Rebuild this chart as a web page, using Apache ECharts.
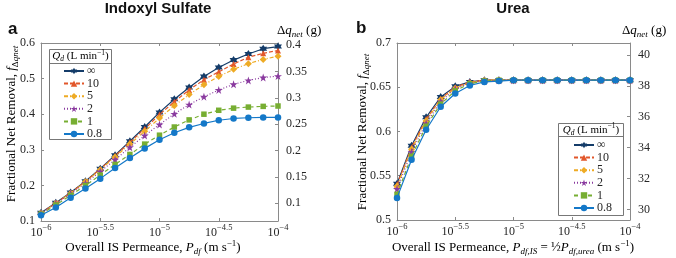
<!DOCTYPE html>
<html><head><meta charset="utf-8">
<script src="https://cdn.jsdelivr.net/npm/echarts@6/dist/echarts.min.js"></script>
<style>html,body{margin:0;padding:0;background:#fff}#c{width:676px;height:258px}</style>
</head><body><div id="c"></div>
<script>
// ---- data ----
const xExp = [-6, -5.875, -5.75, -5.625, -5.5, -5.375, -5.25, -5.125, -5, -4.875, -4.75, -4.625, -4.5, -4.375, -4.25, -4.125, -4];
const seriesNames = ['∞', '10', '5', '2', '1', '0.8'];

const isInf = [0.123,0.151,0.180,0.212,0.247,0.285,0.324,0.364,0.405,0.442,0.475,0.506,0.531,0.552,0.569,0.584,0.590];
const is10  = [0.122,0.150,0.179,0.211,0.246,0.283,0.321,0.359,0.399,0.435,0.468,0.497,0.519,0.541,0.560,0.571,0.579];
const is5   = [0.122,0.150,0.178,0.210,0.244,0.280,0.316,0.352,0.389,0.424,0.455,0.483,0.506,0.526,0.542,0.554,0.563];
const is2   = [0.121,0.149,0.177,0.206,0.239,0.272,0.307,0.340,0.371,0.401,0.427,0.449,0.468,0.484,0.495,0.503,0.507];
const is1   = [0.119,0.145,0.172,0.200,0.229,0.259,0.287,0.316,0.341,0.364,0.384,0.400,0.411,0.417,0.420,0.422,0.423];
const is08  = [0.116,0.138,0.165,0.191,0.219,0.249,0.277,0.304,0.328,0.348,0.363,0.374,0.383,0.388,0.390,0.391,0.391];

const urInf = [0.541,0.584,0.616,0.639,0.651,0.656,0.658,0.658,0.658,0.658,0.658,0.658,0.658,0.658,0.658,0.658,0.658];
const ur10  = [0.540,0.582,0.614,0.637,0.650,0.656,0.658,0.658,0.658,0.658,0.658,0.658,0.658,0.658,0.658,0.658,0.658];
const ur5   = [0.538,0.580,0.612,0.636,0.649,0.655,0.658,0.658,0.658,0.658,0.658,0.658,0.658,0.658,0.658,0.658,0.658];
const ur2   = [0.535,0.577,0.609,0.634,0.648,0.655,0.657,0.658,0.658,0.658,0.658,0.658,0.658,0.658,0.658,0.658,0.658];
const ur1   = [0.529,0.572,0.606,0.631,0.646,0.654,0.657,0.658,0.658,0.658,0.658,0.658,0.658,0.658,0.658,0.658,0.658];
const ur08  = [0.525,0.568,0.602,0.628,0.643,0.652,0.656,0.657,0.658,0.658,0.658,0.658,0.658,0.658,0.658,0.658,0.658];

const xTicks = [-6, -5.5, -5, -4.5, -4];
const isLeftTicks = [0.1, 0.2, 0.3, 0.4, 0.5, 0.6];
const isRightTicks = [0.1, 0.15, 0.2, 0.25, 0.3, 0.35, 0.4];
const urLeftTicks = [0.5, 0.55, 0.6, 0.65, 0.7];
const urRightTicks = [30, 32, 34, 36, 38, 40];

// ---- styles ----
const colors = ['#143c69', '#e2572b', '#eeab25', '#8a3a9f', '#77ae32', '#1478c8'];
const hexagram = 'path://M0,-10L2.887,-5L8.66,-5L5.774,0L8.66,5L2.887,5L0,10L-2.887,5L-8.66,5L-5.774,0L-8.66,-5L-2.887,-5Z';
const pentagram = 'path://M0,-10L2.245,-3.09L9.511,-3.09L3.633,1.18L5.878,8.09L0,3.82L-5.878,8.09L-3.633,1.18L-9.511,-3.09L-2.245,-3.09Z';
const symbols = [hexagram, 'triangle', 'diamond', pentagram, 'rect', 'circle'];
const symSizes = [8, 6, 7, 8, 5.5, 6.5];
const lineTypes = ['solid', [4, 2], [4, 2, 1, 2], [1, 2], [4, 3], 'solid'];

const serif = '"Liberation Serif", "DejaVu Serif", serif';
const sans = '"Liberation Sans", Arial, sans-serif';
const axisCol = '#8a8a8a';
const txtCol = '#262626';

const isData = [isInf, is10, is5, is2, is1, is08];
const urData = [urInf, ur10, ur5, ur2, ur1, ur08];

function fmtExp(v) { return '{b|10}{s|' + String(v).replace('-', '−') + '}'; }
const expRich = {
  b: { fontFamily: serif, fontSize: 12, color: txtCol, lineHeight: 14 },
  s: { fontFamily: serif, fontSize: 8.5, color: txtCol, lineHeight: 10, padding: [0, 0, 10, 0] }
};
function fmtNum(v) { return String(+(+v).toFixed(3)); }

function xAxes(grid) {
  return [
    { gridIndex: grid, type: 'value', min: -6, max: -4, interval: 0.5, position: 'bottom',
      axisLine: { show: true, lineStyle: { color: axisCol, width: 1 } },
      axisTick: { show: true, inside: true, length: 3, lineStyle: { color: axisCol } },
      axisLabel: { formatter: fmtExp, rich: expRich, margin: 5, customValues: xTicks },
      splitLine: { show: false } },
    { gridIndex: grid, type: 'value', min: -6, max: -4, interval: 0.5, position: 'top',
      axisLine: { show: true, lineStyle: { color: axisCol, width: 1 } },
      axisTick: { show: true, inside: true, length: 3, lineStyle: { color: axisCol } },
      axisLabel: { show: false }, splitLine: { show: false } }
  ];
}
function yAxis(grid, pos, min, max, ticks) {
  return { gridIndex: grid, type: 'value', min: min, max: max, position: pos,
    axisLine: { show: true, lineStyle: { color: axisCol, width: 1 } },
    axisTick: { show: true, inside: true, length: 3, customValues: ticks, lineStyle: { color: axisCol } },
    axisLabel: { customValues: ticks, formatter: fmtNum, fontFamily: serif, fontSize: 12, color: txtCol, margin: pos === 'left' ? 6 : 8 },
    splitLine: { show: false } };
}

const series = [];
[isData, urData].forEach((set, p) => {
  set.forEach((arr, k) => {
    series.push({
      name: seriesNames[k], type: 'line',
      xAxisIndex: p * 2, yAxisIndex: p * 2,
      data: xExp.map((x, i) => [x, arr[i]]),
      symbol: symbols[k], symbolSize: symSizes[k], showSymbol: true,
      itemStyle: { color: colors[k] },
      lineStyle: { color: colors[k], width: 1.2, type: lineTypes[k] },
      z: 2 + k, animation: false
    });
  });
});

const richTitle = {
  n: { fontFamily: serif, fontSize: 13, color: txtCol, lineHeight: 16 },
  i: { fontFamily: serif, fontSize: 13, fontStyle: 'italic', color: txtCol, lineHeight: 16 },
  sub: { fontFamily: serif, fontSize: 9, fontStyle: 'italic', color: txtCol, lineHeight: 10, padding: [8, 0, 0, 0] },
  subn: { fontFamily: serif, fontSize: 9, color: txtCol, lineHeight: 10, padding: [8, 0, 0, 0] },
  sup: { fontFamily: serif, fontSize: 9, color: txtCol, lineHeight: 10, padding: [0, 0, 9, 0] }
};
const richHead = {
  n: { fontFamily: serif, fontSize: 11, color: txtCol, lineHeight: 13 },
  i: { fontFamily: serif, fontSize: 11, fontStyle: 'italic', color: txtCol, lineHeight: 13 },
  sub: { fontFamily: serif, fontSize: 7.5, fontStyle: 'italic', color: txtCol, lineHeight: 8, padding: [6, 0, 0, 0] },
  sup: { fontFamily: serif, fontSize: 7.5, color: txtCol, lineHeight: 8, padding: [0, 0, 7, 0] }
};
const headText = '{i|Q}{sub|d}{n| (L min}{sup|−1}{n|)}';

function legendBox(x, y, w, h, sep) {
  return [
    { type: 'rect', shape: { x: x, y: y, width: w, height: h }, style: { fill: '#fff', stroke: '#777', lineWidth: 1 }, z: 10 },
    { type: 'line', shape: { x1: x, y1: sep, x2: x + w, y2: sep }, style: { stroke: '#777', lineWidth: 1 }, z: 11 },
    { type: 'text', x: x + w / 2, y: (y + sep) / 2, z: 11, style: { text: headText, rich: richHead, align: 'center', verticalAlign: 'middle' } }
  ];
}

const graphic = [
  { type: 'text', x: 158, y: 9, style: { text: 'Indoxyl Sulfate', font: 'bold 15px ' + sans, fill: '#111', align: 'center', verticalAlign: 'middle' } },
  { type: 'text', x: 513, y: 9, style: { text: 'Urea', font: 'bold 15px ' + sans, fill: '#111', align: 'center', verticalAlign: 'middle' } },
  { type: 'text', x: 8, y: 29, style: { text: 'a', font: 'bold 17px ' + sans, fill: '#111', align: 'left', verticalAlign: 'middle' } },
  { type: 'text', x: 356, y: 28, style: { text: 'b', font: 'bold 17px ' + sans, fill: '#111', align: 'left', verticalAlign: 'middle' } },
  { type: 'text', x: 277, y: 31, style: { text: '{n|Δ}{i|q}{sub|net}{n| (g)}', rich: richTitle, align: 'left', verticalAlign: 'middle' } },
  { type: 'text', x: 622, y: 31, style: { text: '{n|Δ}{i|q}{sub|net}{n| (g)}', rich: richTitle, align: 'left', verticalAlign: 'middle' } },
  { type: 'text', x: 12, y: 124, rotation: Math.PI / 2, style: { text: '{n|Fractional Net Removal, }{i|f}{subn|Δ}{sub|q}{sub|net}', rich: richTitle, align: 'center', verticalAlign: 'middle' } },
  { type: 'text', x: 363, y: 132, rotation: Math.PI / 2, style: { text: '{n|Fractional Net Removal, }{i|f}{subn|Δ}{sub|q}{sub|net}', rich: richTitle, align: 'center', verticalAlign: 'middle' } },
  { type: 'text', x: 153, y: 248, style: { text: '{n|Overall IS Permeance, }{i|P}{sub|df}{n| (m s}{sup|−1}{n|)}', rich: richTitle, align: 'center', verticalAlign: 'middle' } },
  { type: 'text', x: 513, y: 248, style: { text: '{n|Overall IS Permeance, }{i|P}{sub|df,IS}{n| = ½}{i|P}{sub|df,urea}{n| (m s}{sup|−1}{n|)}', rich: richTitle, align: 'center', verticalAlign: 'middle' } }
].concat(legendBox(49.5, 49.5, 62, 90, 63.5)).concat(legendBox(558.5, 123.5, 65, 92, 136.5));

const legendCommon = {
  data: seriesNames, orient: 'vertical', itemWidth: 20, itemHeight: 8, itemGap: 0.6,
  selectedMode: false, padding: 0, z: 20,
  textStyle: { fontFamily: serif, fontSize: 12, color: txtCol, padding: [0, 0, 0, -2] }
};

const option = {
  animation: false,
  backgroundColor: '#fff',
  grid: [
    { left: 41, top: 43, width: 237, height: 178 },
    { left: 397, top: 43, width: 233, height: 177 }
  ],
  xAxis: xAxes(0).concat(xAxes(1)),
  yAxis: [
    yAxis(0, 'left', 0.1, 0.6, isLeftTicks),
    yAxis(0, 'right', 0.0665, 0.4038, isRightTicks),
    yAxis(1, 'left', 0.5, 0.7, urLeftTicks),
    yAxis(1, 'right', 29.32, 40.77, urRightTicks)
  ],
  legend: [
    Object.assign({}, legendCommon, { left: 63, top: 65 }),
    Object.assign({}, legendCommon, { left: 573, top: 139 })
  ],
  graphic: graphic,
  series: series
};
const chart = echarts.init(document.getElementById('c'), null, { renderer: 'canvas' });
chart.setOption(option);
</script></body></html>
